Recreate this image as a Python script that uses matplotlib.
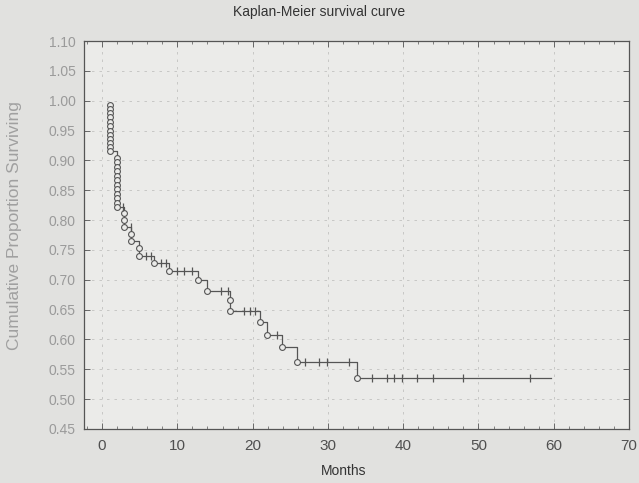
import numpy as np
import matplotlib
matplotlib.use('Agg')
from matplotlib import pyplot as plt

# event points (circles): months, cumulative survival
event_months = [1.0]*12 + [2.0]*12 + [2.9]*3 + [3.9]*2 + [4.9]*2 + \
    [6.9, 8.9, 12.8, 13.9, 17.0, 17.0, 21.0, 21.9, 23.9, 25.9, 33.9]
event_surv = [0.993, 0.986, 0.979, 0.972, 0.965, 0.958, 0.950, 0.943, 0.936, 0.929, 0.922, 0.915,
              0.904, 0.897, 0.889, 0.882, 0.874, 0.867, 0.859, 0.852, 0.844, 0.837, 0.829, 0.822,
              0.812, 0.800, 0.789,
              0.777, 0.765,
              0.753, 0.740,
              0.728, 0.715, 0.700, 0.682, 0.666, 0.648, 0.629, 0.608, 0.587, 0.563, 0.535]
last_month = 59.7

# censored cases (+)
cens_months = [2.8, 3.8, 5.8, 6.5, 7.8, 8.5, 10.0, 10.9, 12.0, 15.8, 16.7, 18.9, 19.7, 20.3,
               23.2, 27.0, 28.8, 29.9, 32.8, 35.9, 37.9, 38.8, 39.9, 41.9, 43.9, 47.9, 56.9]
cens_surv = [0.822, 0.789, 0.740, 0.740, 0.728, 0.728, 0.715, 0.715, 0.715, 0.682, 0.682,
             0.648, 0.648, 0.648, 0.608, 0.563, 0.563, 0.563, 0.563,
             0.535, 0.535, 0.535, 0.535, 0.535, 0.535, 0.535, 0.535]

xticks = [0, 10, 20, 30, 40, 50, 60, 70]
yticks = [0.45, 0.50, 0.55, 0.60, 0.65, 0.70, 0.75, 0.80, 0.85, 0.90, 0.95, 1.00, 1.05, 1.10]

paper = '#e1e1df'
inner = '#ebebe9'
ink = '#555555'

plt.rcParams['font.family'] = ['Liberation Sans', 'DejaVu Sans']

fig = plt.figure(figsize=(6.39, 4.83), dpi=100, facecolor=paper)
ax = fig.add_axes([84/639, 1-429/483, 545/639, 388/483])
ax.set_facecolor(inner)

# step curve
xs = event_months + [last_month]
ys = event_surv + [event_surv[-1]]
ax.step(xs, ys, where='post', color=ink, lw=0.9, zorder=3)
ax.plot(event_months, event_surv, 'o', ms=4.2, mfc=inner, mec=ink, mew=0.8, zorder=4)
ax.plot(cens_months, cens_surv, '|', ms=5.5, mec=ink, mew=0.9, zorder=4)

ax.set_xlim(-2.4, 70)
ax.set_ylim(0.45, 1.10)
ax.set_xticks(xticks)
ax.set_xticks(np.arange(-2, 71, 2), minor=True)
ax.set_yticks(yticks)
ax.set_yticklabels(['%.2f' % v for v in yticks])
ax.grid(True, color='#c2c2c0', lw=0.6, linestyle=(0, (3, 6)))
ax.tick_params(direction='in', top=True, right=True, length=4, width=0.6, color=ink)
ax.tick_params(which='minor', direction='in', top=True, length=2, width=0.5, color=ink)
ax.tick_params(axis='x', labelsize=11, labelcolor='#505050', pad=7)
ax.tick_params(axis='y', labelsize=10, labelcolor='#9a9a9a', pad=6)
for s in ax.spines.values():
    s.set_color(ink)
    s.set_linewidth(0.9)

fig.text(0.5, 1-12/483, 'Kaplan-Meier survival curve', ha='center', va='center',
         fontsize=10, color='#333333')
fig.text(344/639, 1-471/483, 'Months', ha='center', va='center', fontsize=10, color='#333333')
fig.text(15/639, 1-226/483, 'Cumulative Proportion Surviving', ha='center', va='center',
         rotation=90, fontsize=12.5, color='#a0a0a0')

plt.savefig('out.png', dpi=100, facecolor=paper)
